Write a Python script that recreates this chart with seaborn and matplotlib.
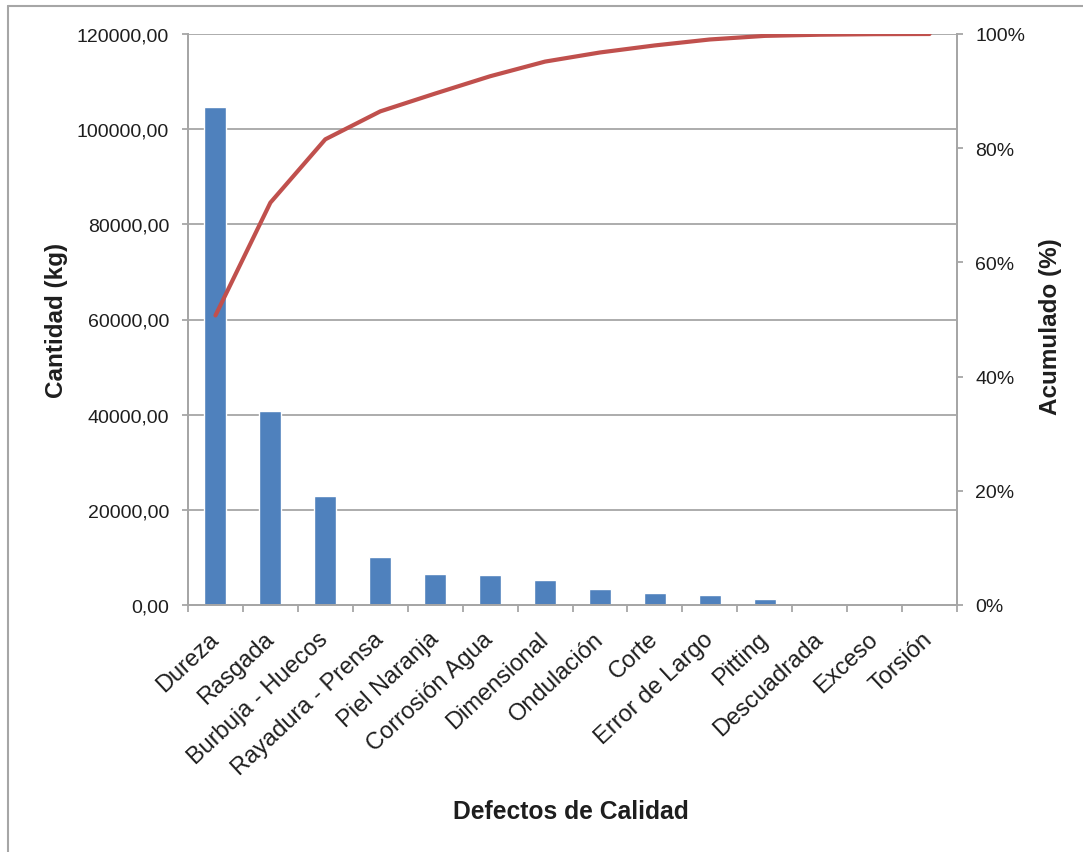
import numpy as np
import pandas as pd
import matplotlib
matplotlib.use("Agg")
import matplotlib.pyplot as plt
from matplotlib.lines import Line2D
from matplotlib.ticker import FuncFormatter, MultipleLocator, FixedLocator
import seaborn as sns

# Defectos de calidad ordenados de mayor a menor (Pareto)
defectos = ["Dureza", "Rasgada", "Burbuja - Huecos", "Rayadura - Prensa",
            "Piel Naranja", "Corrosión Agua", "Dimensional", "Ondulación",
            "Corte", "Error de Largo", "Pitting", "Descuadrada", "Exceso",
            "Torsión"]
cantidad_kg = [104700, 40800, 22900, 10100, 6450, 6250, 5300, 3300,
               2550, 2150, 1300, 420, 200, 60]

df = pd.DataFrame({"defecto": defectos, "cantidad": cantidad_kg})
df["acumulado"] = df["cantidad"].cumsum() / df["cantidad"].sum() * 100
df["pos"] = np.arange(len(df))

sns.set_theme(style="white")
plt.rcParams["font.family"] = ["Liberation Sans", "DejaVu Sans"]

BAR = "#4F81BD"
LINE = "#C0504D"
GRID = "#A6A6A6"
TXT = "#1E1E1E"

fig = plt.figure(figsize=(10.83, 8.53), dpi=100)
W, H = 1083, 853
x0, x1, y0, y1 = 188, 957, 606, 35
ax = fig.add_axes([x0 / W, 1 - y0 / H, (x1 - x0) / W, (y0 - y1) / H])

sns.barplot(data=df, x="defecto", y="cantidad", color=BAR, saturation=1,
            width=0.4, ax=ax, zorder=2)
n = len(df)
ax.set_xlim(-0.5, n - 0.5)
ax.set_ylim(0, 120000)
ax.yaxis.set_major_locator(MultipleLocator(20000))
ax.yaxis.set_major_formatter(FuncFormatter(lambda v, p: f"{v:.2f}".replace(".", ",")))
ax.yaxis.grid(True, color=GRID, lw=1.3)
ax.set_axisbelow(True)

ax2 = ax.twinx()
sns.lineplot(data=df, x="pos", y="acumulado", color=LINE, lw=3.0, ax=ax2,
             solid_capstyle="round")
ax2.set_ylim(0, 100)
ax2.set_xlim(-0.5, n - 0.5)
ax2.yaxis.set_major_locator(MultipleLocator(20))
ax2.yaxis.set_major_formatter(FuncFormatter(lambda v, p: f"{v:.0f}%"))

for a in (ax, ax2):
    for s in a.spines.values():
        s.set_color(GRID)
        s.set_linewidth(1.3)
    a.spines["top"].set_visible(False)

# category labels at centres, tick marks at boundaries
ax.xaxis.set_major_locator(FixedLocator(np.arange(n)))
ax.set_xticklabels(defectos)
ax.xaxis.set_minor_locator(FixedLocator(np.arange(-0.5, n, 1)))
ax.tick_params(axis="x", which="major", length=0, pad=22, labelsize=17, colors=TXT)
ax.tick_params(axis="x", which="minor", length=5, width=1.3, color=GRID, bottom=True)
for lab in ax.get_xticklabels():
    lab.set_rotation(43)
    lab.set_ha("right")
    lab.set_va("center")
    lab.set_rotation_mode("anchor")

ax.tick_params(axis="y", length=4.5, width=1.3, color=GRID, pad=9, labelsize=14,
               labelcolor=TXT, left=True)
ax2.tick_params(axis="y", length=4, width=1.3, color=GRID, pad=9, labelsize=14,
                labelcolor=TXT, right=True)

ax.set_xlabel("Defectos de Calidad", fontsize=17.7, fontweight="bold", color=TXT)
ax.xaxis.label.set_va("center")
ax.xaxis.set_label_coords((571 - x0) / (x1 - x0), -(812 - y0) / (y0 - y1))
ax.set_ylabel("Cantidad (kg)", fontsize=17.5, fontweight="bold", color=TXT)
ax.yaxis.label.set_va("center")
ax.yaxis.set_label_coords((56 - x0) / (x1 - x0), 0.5)
ax2.set_ylabel("Acumulado (%)", fontsize=17.5, fontweight="bold", color=TXT)
ax2.yaxis.label.set_va("center")
ax2.yaxis.set_label_coords((1051 - x0) / (x1 - x0), 0.49)

# chart frame (left and top edges)
fig.add_artist(Line2D([8 / W, 8 / W], [0, 1 - 7 / H], color="#A6A6A6", lw=1.5,
                      transform=fig.transFigure))
fig.add_artist(Line2D([8 / W, 1], [1 - 7 / H, 1 - 7 / H], color="#A6A6A6", lw=1.5,
                      transform=fig.transFigure))

fig.savefig("out.png", dpi=100, facecolor="white")
